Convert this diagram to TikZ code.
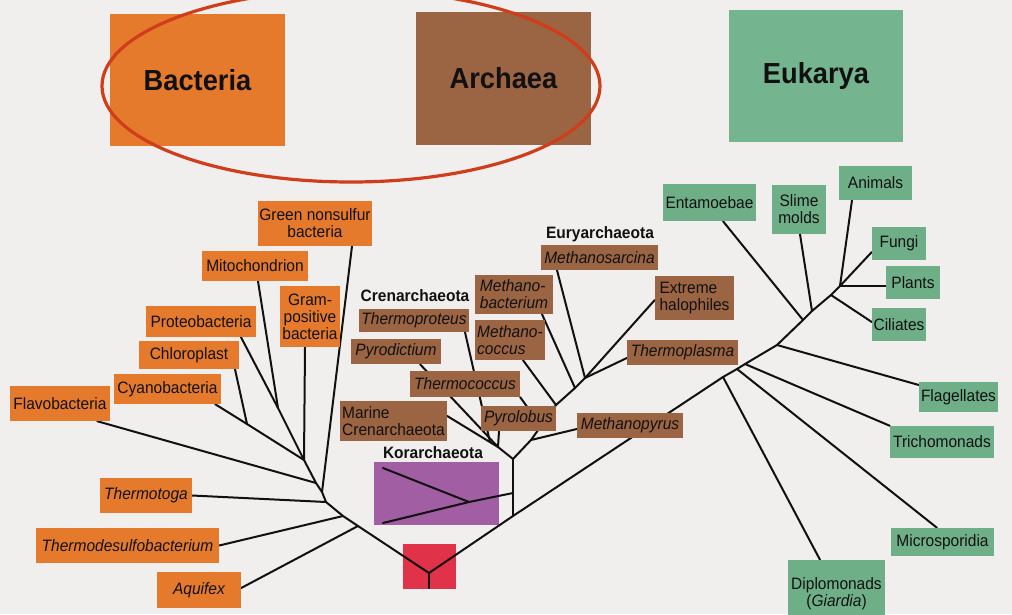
\documentclass[tikz,border=0pt]{standalone}
\usepackage{fontspec}
\setmainfont{Liberation Sans}[FakeStretch=0.94]
\usetikzlibrary{backgrounds}
\definecolor{bgc}{HTML}{F1EFED}
\definecolor{bac}{HTML}{E57A2C}
\definecolor{arc}{HTML}{9B6442}
\definecolor{euk}{HTML}{6FAF88}
\definecolor{eukt}{HTML}{74B48E}
\definecolor{kor}{HTML}{A15EA3}
\definecolor{rootc}{HTML}{E03248}
\definecolor{ell}{HTML}{CF3D1B}
\definecolor{ink}{HTML}{111111}
\begin{document}
\begin{tikzpicture}[x=1pt,y=-1pt,
 lbl/.style={inner sep=0pt, align=center, text=ink, font=\fontsize{16.5}{17}\selectfont},
 it/.style={font=\fontsize{16.5}{17}\selectfont\itshape},
 sz/.style 2 args={minimum width=#1pt, minimum height=#2pt},
 bb/.style={lbl, fill=bac}, ab/.style={lbl, fill=arc}, eb/.style={lbl, fill=euk},
 big/.style={inner sep=0pt, text=ink, font=\fontsize{29}{32}\selectfont\bfseries},
 grp/.style={lbl, font=\fontsize{16.5}{17}\selectfont\bfseries},
 br/.style={line width=2pt, draw=ink, line cap=round, line join=round}]
\useasboundingbox (0,0) rectangle (1012,614);

% domain boxes
\node[big, fill=bac, sz={175}{132}] (bacteria) at (197.5,80) {Bacteria};
\node[big, fill=arc, sz={175}{133}] (archaea) at (503.5,78.5) {Archaea};
\node[big, fill=eukt, sz={174}{132}] (eukarya) at (816,76) {Eukarya};

% bacteria
\node[bb, sz={114}{45}] (gns) at (315,223.5) {Green nonsulfur\\bacteria};
\node[bb, sz={106}{30}] (mito) at (255,266) {Mitochondrion};
\node[bb, sz={60}{61}] (gram) at (310,316.5) {Gram-\\positive\\bacteria};
\node[bb, sz={110}{31}] (proteo) at (201,321.5) {Proteobacteria};
\node[bb, sz={100}{28}] (chloro) at (189,355) {Chloroplast};
\node[bb, sz={107}{30}] (cyano) at (167.5,389) {Cyanobacteria};
\node[bb, sz={100}{35}] (flavo) at (60,403.5) {Flavobacteria};
\node[bb, it, sz={92}{35}] (ttoga) at (146,495.5) {Thermotoga};
\node[bb, it, sz={183}{35}] (tdesulfo) at (127.5,545.5) {Thermodesulfobacterium};
\node[bb, it, sz={84}{36}] (aquifex) at (199,590) {Aquifex};

% archaea
\node[grp] (eurylab) at (600,234) {Euryarchaeota};
\node[ab, it, sz={117}{25}] (msarc) at (599.5,257.5) {Methanosarcina};
\node[ab, it, align=left, sz={78}{39}] (mbact) at (514,294.5) {Methano-\\bacterium};
\node[ab, align=left, sz={79}{44}] (halo) at (694.5,298) {Extreme\\halophiles};
\node[grp] (crenlab) at (415,296) {Crenarchaeota};
\node[ab, it, sz={110}{23}] (tproteus) at (414,320.5) {Thermoproteus};
\node[ab, it, align=left, sz={70}{40}] (mcoccus) at (510,340) {Methano-\\coccus};
\node[ab, it, sz={90}{25}] (pyrodict) at (396,351.5) {Pyrodictium};
\node[ab, it, sz={111}{25}] (tplasma) at (682.5,352.5) {Thermoplasma};
\node[ab, it, sz={110}{26}] (tcoccus) at (465,384) {Thermococcus};
\node[ab, align=left, sz={107}{40}] (marine) at (393.5,421) {Marine\\Crenarchaeota};
\node[ab, it, sz={75}{25}] (pyrolobus) at (518.5,418.5) {Pyrolobus};
\node[ab, it, sz={106}{25}] (mpyrus) at (630,425.5) {Methanopyrus};
\node[grp] (korlab) at (433,453) {Korarchaeota};

% eukarya
\node[eb, sz={93}{37}] (entam) at (709.5,202.5) {Entamoebae};
\node[eb, sz={54}{49}] (slime) at (799,209.5) {Slime\\molds};
\node[eb, sz={73}{34}] (animals) at (875.5,183) {Animals};
\node[eb, sz={54}{33}] (fungi) at (899,243.5) {Fungi};
\node[eb, sz={54}{33}] (plants) at (913,282.5) {Plants};
\node[eb, sz={54}{33}] (ciliates) at (899,324.5) {Ciliates};
\node[eb, sz={79}{30}] (flagel) at (958.5,397) {Flagellates};
\node[eb, sz={104}{32}] (tricho) at (942,442) {Trichomonads};
\node[eb, sz={103}{28}] (micro) at (942.5,542) {Microsporidia};
\node[eb, sz={97}{68}] (diplo) at (836.5,594) {Diplomonads\\(\textit{Giardia})};

% red ellipse
\draw[ell, line width=3.2pt] (351,86) ellipse [x radius=249, y radius=96];

\begin{scope}[on background layer]
\fill[bgc] (0,0) rectangle (1012,614);
\node[fill=rootc, inner sep=0pt, sz={53}{45}] (rootbox) at (429.5,566.5) {};
\node[fill=kor, inner sep=0pt, sz={125}{63}] (korbox) at (436.5,493.5) {};

% junctions
\coordinate (root) at (429,573);
\coordinate (rootb) at (429,588);
\coordinate (jA) at (304,460);
\coordinate (jPM) at (278,408);
\coordinate (jCC) at (247,424);
\coordinate (jF) at (316,483);
\coordinate (jG) at (322,492);
\coordinate (jT) at (326,502);
\coordinate (jD) at (343,516);
\coordinate (jQ) at (358,526);
\coordinate (jK) at (513,516);
\coordinate (jKo) at (513,493);
\coordinate (jKi) at (469,502);
\coordinate (ka) at (383,468);
\coordinate (kb) at (383,523);
\coordinate (jC) at (513,459);
\coordinate (jCr) at (498,447);
\coordinate (jTp) at (490,442);
\coordinate (jMp) at (531,440);
\coordinate (jTc) at (541,426);
\coordinate (jMc) at (556,405);
\coordinate (jMb) at (575,388);
\coordinate (jE) at (585,378);
\coordinate (jDp) at (723,377);
\coordinate (jMi) at (737,369);
\coordinate (jTr) at (745,364);
\coordinate (jFl) at (777,345);
\coordinate (jEn) at (803,320);
\coordinate (jSl) at (812,311);
\coordinate (jCi) at (831,295);
\coordinate (jTop) at (840,286);

% main trunk
\draw[br] (jA) -- (jF) -- (jG) -- (jT) -- (jD) -- (jQ) -- (root) -- (jK) -- (jDp) -- (jMi) -- (jTr) -- (jFl) -- (jEn) -- (jSl) -- (jCi) -- (jTop);
\draw[br] (root) -- (rootb);

% bacteria branches
\draw[br] ([xshift=40pt]proteo.south) -- (jPM) -- (jA);
\draw[br] ([xshift=3pt]mito.south) -- (jPM);
\draw[br] ([xshift=-5pt]gram.south) -- (jA);
\draw[br] ([xshift=46pt]chloro.south) -- (jCC);
\draw[br] ([xshift=-6pt]cyano.south east) -- (jCC) -- (jA);
\draw[br] ([xshift=-13pt]flavo.south east) -- (jF);
\draw[br] ([xshift=37pt]gns.south) -- (jG);
\draw[br] (ttoga.east) -- (jT);
\draw[br] (tdesulfo.east) -- (jD);
\draw[br] ([yshift=2pt]aquifex.east) -- (jQ);

% archaea branches
\draw[br] (jK) -- (jC);
\draw[br] (jKo) -- (jKi) -- (ka);
\draw[br] (jKi) -- (kb);
\draw[br] (jC) -- (jCr) -- ([yshift=5pt]marine.east);
\draw[br] ([xshift=24pt]pyrodict.south) -- (jCr);
\draw[br] ([xshift=51pt]tproteus.south) -- (jTp);
\draw[br] ([xshift=-19.5pt]pyrolobus.south) -- (jCr);
\draw[br] (jC) -- (jMp) -- (jTc) -- (jMc) -- (jMb) -- (jE);
\draw[br] ([yshift=-3.5pt]mpyrus.west) -- (jMp);
\draw[br] (tcoccus.south east) -- (jTc);
\draw[br] ([xshift=13pt]mcoccus.south) -- (jMc);
\draw[br] ([xshift=28pt]mbact.south) -- (jMb);
\draw[br] ([xshift=-42.5pt]msarc.south) -- (jE);
\draw[br] ([yshift=-2pt]halo.west) -- (jE);
\draw[br] ([yshift=-5.5pt]tplasma.west) -- (jE);

% eukarya branches
\draw[br] ([xshift=-16.5pt]diplo.north) -- (jDp);
\draw[br] ([xshift=-5.5pt]micro.north) -- (jMi);
\draw[br] (tricho.north west) -- (jTr);
\draw[br] ([yshift=12pt]flagel.west) -- (jFl);
\draw[br] ([xshift=13.5pt]entam.south) -- (jEn);
\draw[br] ([xshift=1pt]slime.south) -- (jSl);
\draw[br] ([yshift=2.5pt]ciliates.west) -- (jCi);
\draw[br] ([xshift=-23.5pt]animals.south) -- (jTop);
\draw[br] ([yshift=-3.5pt]plants.west) -- (jTop);
\draw[br] ([yshift=-8.5pt]fungi.west) -- (jTop);
\end{scope}
\end{tikzpicture}
\end{document}
